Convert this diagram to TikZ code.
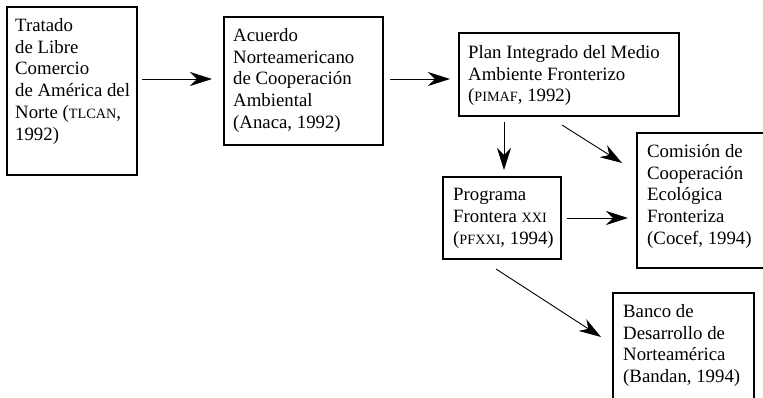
\documentclass[tikz,border=0pt]{standalone}
\usepackage{fontspec}
\setmainfont{Liberation Serif}
\usetikzlibrary{arrows.meta}
\newcommand\smcp[1]{{\fontsize{14.2}{14.2}\selectfont #1}}
\tikzset{
  boxnode/.style={draw, line width=1.2pt, inner sep=0pt, outer sep=0pt, anchor=north west},
  boxtext/.style={anchor=north west, inner sep=0pt, align=left, font=\fontsize{18.8}{21.8}\selectfont},
  arr/.style={line width=0.9pt, -{Stealth[length=22pt, width=14pt, inset=7pt]}}
}
\begin{document}
\begin{tikzpicture}[x=1pt,y=-1pt]
\useasboundingbox (0,0) rectangle (763,397);
\fill[white] (0,0) rectangle (763,397);
\clip (0,0) rectangle (763,397);
% boxes
\node[boxnode, minimum width=130pt, minimum height=168pt] (tlcan) at (7,7) {};
\node[boxnode, minimum width=159pt, minimum height=128pt] (anaca) at (224,17) {};
\node[boxnode, minimum width=220pt, minimum height=83pt] (pimaf) at (459,33) {};
\node[boxnode, minimum width=118pt, minimum height=82pt] (pfxxi) at (443,177) {};
\node[boxnode, minimum width=140pt, minimum height=135pt] (cocef) at (637,133) {};
\node[boxnode, minimum width=141pt, minimum height=120pt] (bandan) at (613,293) {};
% texts
\node[boxtext] (tlcantxt) at ([shift={(8,11)}]tlcan.north west) {Tratado\\de Libre\\Comercio\\de América del\\Norte (\smcp{TLCAN},\\1992)};
\node[boxtext] (anacatxt) at ([shift={(9,11)}]anaca.north west) {Acuerdo\\Norteamericano\\de Cooperación\\Ambiental\\(Anaca, 1992)};
\node[boxtext] (pimaftxt) at ([shift={(9,12)}]pimaf.north west) {Plan Integrado del Medio\\Ambiente Fronterizo\\(\smcp{PIMAF}, 1992)};
\node[boxtext] (pfxxitxt) at ([shift={(10,11)}]pfxxi.north west) {Programa\\Frontera \smcp{XXI}\\(\smcp{PFXXI}, 1994)};
\node[boxtext] (coceftxt) at ([shift={(10,11)}]cocef.north west) {Comisión de\\Cooperación\\Ecológica\\Fronteriza\\(Cocef, 1994)};
\node[boxtext] (bandantxt) at ([shift={(10,11)}]bandan.north west) {Banco de\\Desarrollo de\\Norteamérica\\(Bandan, 1994)};
% connectors
\draw[arr] ([shift={(5,72)}]tlcan.north east) -- ([shift={(-12,62)}]anaca.north west);
\draw[arr] ([shift={(7,62)}]anaca.north east) -- ([shift={(-9,46)}]pimaf.north west);
\draw[arr] ([shift={(45,6)}]pimaf.south west) -- ([shift={(61,-7)}]pfxxi.north west);
\draw[arr] ([shift={(103,9)}]pimaf.south west) -- ([shift={(-15,30)}]cocef.north west);
\draw[arr] ([shift={(6,41)}]pfxxi.north east) -- ([shift={(-9,85)}]cocef.north west);
\draw[arr] ([shift={(53,10)}]pfxxi.south west) -- ([shift={(-12,44)}]bandan.north west);
\end{tikzpicture}
\end{document}
